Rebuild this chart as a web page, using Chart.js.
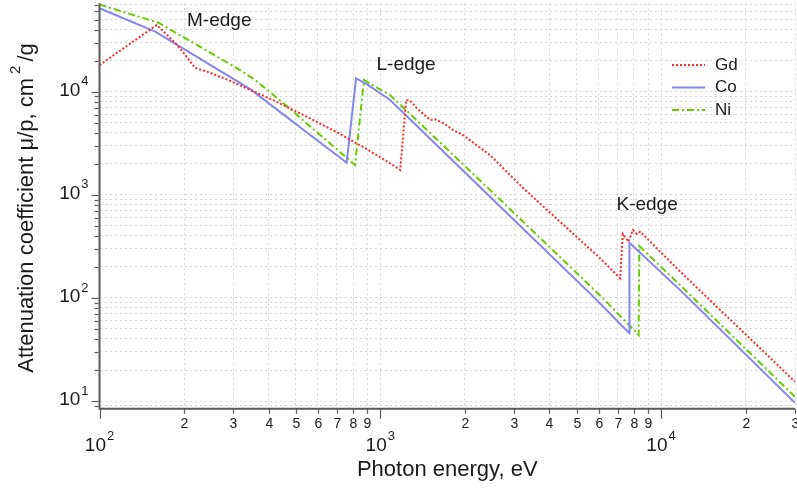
<!DOCTYPE html>
<html>
<head>
<meta charset="utf-8">
<script src="https://cdn.jsdelivr.net/npm/chart.js@4.4.1/dist/chart.umd.min.js"></script>
<style>
  html, body { margin: 0; padding: 0; background: #fff; }
  #wrap { width: 797px; height: 492px; }
</style>
</head>
<body>
<div id="wrap"><canvas id="chart" width="797" height="492"></canvas></div>
<script>
// photon energy (eV) and mass attenuation coefficient (cm2/g)
const gdEnergy = [100, 160, 167, 186, 202, 219, 244, 287, 358, 415, 547, 720, 906, 1084, 1178,
                  1236, 1277, 1349, 1506, 1568, 1674, 1817, 1971, 2460, 3225, 6070, 7150,
                  7310, 7650, 7940, 8200, 8430, 11700, 30000];
const gdMu = [18100, 44400, 39600, 29700, 22700, 17000, 15500, 13000, 9930, 8300, 5720, 3890, 2720, 2020, 1740,
              8310, 8190, 6900, 5320, 5400, 4970, 4250, 3800, 2430, 1165, 242, 155,
              417, 351, 456, 417, 439, 180, 15.4];

const coEnergy = [100, 158, 344, 759, 820, 906, 1084, 2323, 5820, 7709, 7720, 11700, 30000];
const coMu = [64400, 38200, 10600, 2050, 13500, 11600, 8300, 1115, 99, 45.4, 343, 119, 9.6];

const niEnergy = [100, 162, 317, 358, 451, 813, 875, 912, 1084, 2460, 6220, 8320, 8370, 11700, 30000];
const niMu = [70000, 46700, 16200, 13000, 7760, 1945, 13000, 12100, 9290, 1115, 99, 43.7, 318, 133, 11];

const seriesNames = ['Gd', 'Co', 'Ni'];

// axis ranges and tick decades
const xRange = [100, 30000];
const yRange = [8.6, 72000];
const xDecades = [100, 1000, 10000];
const yDecades = [10, 100, 1000, 10000];

// edge labels: [text, energy, mu]
const edgeLabels = [
  ['M-edge', 267, 48500],
  ['L-edge', 1236, 18200],
  ['K-edge', 8920, 796]
];

const axisColor = '#5a5a5a';
const textColor = '#1a1a1a';
const fontFamily = '"Liberation Sans", Arial, sans-serif';

function gridValues(range) {
  const vals = [];
  let dec = Math.pow(10, Math.floor(Math.log10(range[0])));
  while (dec <= range[1]) {
    for (let k = 1; k <= 9; k++) {
      const v = k * dec;
      if (v >= range[0] * 0.999 && v <= range[1] * 1.001) vals.push(v);
    }
    dec *= 10;
  }
  return vals;
}

function toPoints(xs, ys) {
  return xs.map((v, i) => ({ x: v, y: ys[i] }));
}

function drawPow(ctx, exp, px, py, align) {
  ctx.font = '19px ' + fontFamily;
  const w1 = ctx.measureText('10').width;
  ctx.font = '13px ' + fontFamily;
  const w2 = ctx.measureText(String(exp)).width;
  const total = w1 + w2 + 1;
  let start = align === 'right' ? px - total : px - total / 2;
  ctx.textAlign = 'left';
  ctx.textBaseline = 'middle';
  ctx.font = '19px ' + fontFamily;
  ctx.fillText('10', start, py);
  ctx.font = '13px ' + fontFamily;
  ctx.fillText(String(exp), start + w1 + 1, py - 9);
}

const overlay = {
  id: 'overlay',
  afterDraw(chart) {
    const { ctx, chartArea: a, scales: { x, y } } = chart;
    ctx.save();
    ctx.fillStyle = textColor;

    // axis lines
    ctx.strokeStyle = axisColor;
    ctx.lineWidth = 2;
    ctx.beginPath();
    ctx.moveTo(a.left, a.top);
    ctx.lineTo(a.left, a.bottom + 1);
    ctx.moveTo(a.left - 1, a.bottom + 1);
    ctx.lineTo(a.right, a.bottom + 1);
    ctx.stroke();

    // y ticks
    ctx.lineWidth = 1.2;
    gridValues(yRange).forEach(v => {
      const py = Math.round(y.getPixelForValue(v)) + 0.5;
      const major = yDecades.includes(v);
      ctx.beginPath();
      ctx.moveTo(a.left - 1, py);
      ctx.lineTo(a.left - (major ? 8 : 5), py);
      ctx.stroke();
    });
    yDecades.forEach(v => {
      drawPow(ctx, Math.round(Math.log10(v)), a.left - 11, y.getPixelForValue(v) - 1, 'right');
    });

    // x ticks
    gridValues(xRange).forEach(v => {
      const px = Math.round(x.getPixelForValue(v)) + 0.5;
      const major = xDecades.includes(v);
      ctx.beginPath();
      ctx.moveTo(px, a.bottom + 1);
      ctx.lineTo(px, a.bottom + (major ? 11 : 6));
      ctx.stroke();
      if (!major) {
        ctx.font = '14px ' + fontFamily;
        ctx.textAlign = 'center';
        ctx.textBaseline = 'middle';
        ctx.fillText(String(Math.round(v / Math.pow(10, Math.floor(Math.log10(v) + 1e-9)))), px, a.bottom + 16);
      }
    });
    xDecades.forEach(v => {
      drawPow(ctx, Math.round(Math.log10(v)), x.getPixelForValue(v), a.bottom + 38, 'center');
    });

    // axis titles
    ctx.font = '22px ' + fontFamily;
    ctx.textAlign = 'center';
    ctx.textBaseline = 'middle';
    ctx.fillText('Photon energy, eV', (a.left + a.right) / 2, 470);

    ctx.save();
    ctx.translate(27, 208);
    ctx.rotate(-Math.PI / 2);
    const t1 = 'Attenuation coefficient \u03bc/p, cm';
    const t3 = '/g';
    ctx.font = '22px ' + fontFamily;
    const w1 = ctx.measureText(t1).width;
    const w3 = ctx.measureText(t3).width;
    ctx.font = '15px ' + fontFamily;
    const w2 = ctx.measureText('2').width;
    const total = w1 + w2 + w3 + 8;
    let sx = -total / 2;
    ctx.textAlign = 'left';
    ctx.font = '22px ' + fontFamily;
    ctx.fillText(t1, sx, 0);
    ctx.font = '15px ' + fontFamily;
    ctx.fillText('2', sx + w1 + 4, -11);
    ctx.font = '22px ' + fontFamily;
    ctx.fillText(t3, sx + w1 + w2 + 8, 0);
    ctx.restore();

    // edge annotations
    ctx.font = '19px ' + fontFamily;
    edgeLabels.forEach(([txt, ex, ey]) => {
      ctx.fillText(txt, x.getPixelForValue(ex), y.getPixelForValue(ey));
    });

    // legend
    chart.data.datasets.forEach((ds, i) => {
      const ly = 65 + i * 22.5;
      ctx.save();
      ctx.strokeStyle = ds.borderColor;
      ctx.lineWidth = ds.borderWidth;
      ctx.setLineDash(ds.borderDash || []);
      ctx.beginPath();
      ctx.moveTo(672, ly);
      ctx.lineTo(705, ly);
      ctx.stroke();
      ctx.restore();
      ctx.font = '17px ' + fontFamily;
      ctx.textAlign = 'left';
      ctx.fillStyle = textColor;
      ctx.fillText(ds.label, 715, ly);
    });

    ctx.restore();
  }
};

function setTicks(range) {
  return scale => { scale.ticks = gridValues(range).map(v => ({ value: v })); };
}

new Chart(document.getElementById('chart'), {
  type: 'scatter',
  data: {
    datasets: [
      {
        label: seriesNames[0],
        data: toPoints(gdEnergy, gdMu),
        borderColor: '#ff2a2a',
        borderWidth: 2,
        borderDash: [2, 2]
      },
      {
        label: seriesNames[1],
        data: toPoints(coEnergy, coMu),
        borderColor: '#8585ee',
        borderWidth: 2
      },
      {
        label: seriesNames[2],
        data: toPoints(niEnergy, niMu),
        borderColor: '#66cc00',
        borderWidth: 2,
        borderDash: [7, 3, 2, 3]
      }
    ].map(ds => Object.assign(ds, { showLine: true, pointRadius: 0, tension: 0, fill: false }))
  },
  options: {
    responsive: false,
    animation: false,
    devicePixelRatio: 1,
    layout: { padding: { left: 99.5, right: 2, top: 3.3, bottom: 84.2 } },
    plugins: { legend: { display: false }, tooltip: { enabled: false } },
    scales: {
      x: {
        type: 'logarithmic',
        min: xRange[0],
        max: xRange[1],
        afterBuildTicks: setTicks(xRange),
        ticks: { display: false },
        grid: { color: '#d6d6d6', lineWidth: 1, drawTicks: false },
        border: { display: false, dash: [2, 3] }
      },
      y: {
        type: 'logarithmic',
        min: yRange[0],
        max: yRange[1],
        afterBuildTicks: setTicks(yRange),
        ticks: { display: false },
        grid: { color: '#d6d6d6', lineWidth: 1, drawTicks: false },
        border: { display: false, dash: [2, 3] }
      }
    }
  },
  plugins: [overlay]
});
</script>
</body>
</html>
